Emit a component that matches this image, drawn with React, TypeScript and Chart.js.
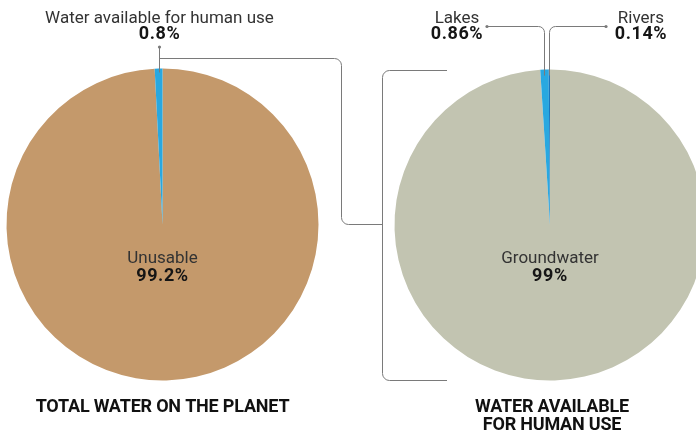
import React, { useEffect, useRef } from "react";
import { Chart, registerables } from "chart.js";

Chart.register(...registerables);

// ---- data ----
const totalLabels = ["Unusable", "Water available for human use"];
const totalValues = [99.2, 0.8];
const totalColors = ["#C4996B", "#29A8E0"];

const humanLabels = ["Groundwater", "Lakes", "Rivers"];
const humanValues = [99, 0.86, 0.14];
const humanColors = ["#C2C4B1", "#29A8E0", "#1B75BC"];

const leftTitle = ["TOTAL WATER ON THE PLANET"];
const rightTitle = ["WATER AVAILABLE", "FOR HUMAN USE"];

const FONT = "Roboto, 'Liberation Sans', sans-serif";
const LINE = "#7a7a7a";
const TEXT = "#333333";
const BOLD = "#151515";

const pct = (v: number) => `${v}%`;

function label(ctx: CanvasRenderingContext2D, name: string, value: number, x: number, y: number, gap: number) {
  ctx.save();
  ctx.textAlign = "center";
  ctx.textBaseline = "alphabetic";
  ctx.fillStyle = TEXT;
  ctx.font = `17px ${FONT}`;
  ctx.fillText(name, x, y);
  ctx.fillStyle = BOLD;
  ctx.font = `bold 18px ${FONT}`;
  (ctx as any).letterSpacing = "0.6px";
  ctx.fillText(pct(value), x, y + gap);
  ctx.restore();
}

function title(ctx: CanvasRenderingContext2D, lines: string[], x: number, y: number) {
  ctx.save();
  ctx.textAlign = "center";
  ctx.fillStyle = "#111";
  ctx.font = `bold 18px ${FONT}`;
  (ctx as any).letterSpacing = "-0.2px";
  lines.forEach((l, i) => ctx.fillText(l, x, y + i * 18));
  ctx.restore();
}

function anchor(arc: any) {
  const mid = (arc.startAngle + arc.endAngle) / 2;
  return { x: arc.x + arc.outerRadius * Math.cos(mid), y: arc.y + arc.outerRadius * Math.sin(mid) };
}

function dot(ctx: CanvasRenderingContext2D, x: number, y: number) {
  ctx.beginPath();
  ctx.fillStyle = LINE;
  ctx.arc(x, y, 1.6, 0, Math.PI * 2);
  ctx.fill();
}

const leftPlugin = {
  id: "leftAnn",
  afterDraw(chart: any) {
    const ctx: CanvasRenderingContext2D = chart.ctx;
    const arcs = chart.getDatasetMeta(0).data;
    const main = arcs[0];
    const cx = main.x, cy = main.y, r = main.outerRadius;
    ctx.save();
    label(ctx, totalLabels[0], totalValues[0], cx, cy + 38, 18);
    const a = anchor(arcs[1]);
    const ax = Math.round(a.x) + 0.5;
    label(ctx, totalLabels[1], totalValues[1], ax, 23, 16);
    // connector
    ctx.strokeStyle = LINE;
    ctx.lineWidth = 1;
    ctx.beginPath();
    ctx.moveTo(ax, 47);
    ctx.lineTo(ax, cy - r + 4);
    ctx.stroke();
    ctx.beginPath();
    const hy = 58.5, vx = 341.5, by = 224.5, ex = 382.5;
    ctx.moveTo(ax, hy);
    ctx.arcTo(vx, hy, vx, hy + 6, 7);
    ctx.arcTo(vx, by, vx + 6, by, 7);
    ctx.lineTo(ex, by);
    ctx.stroke();
    dot(ctx, ax, 47);
    title(ctx, leftTitle, cx, 412);
    ctx.restore();
  },
};

const rightPlugin = {
  id: "rightAnn",
  afterDraw(chart: any) {
    const ctx: CanvasRenderingContext2D = chart.ctx;
    const arcs = chart.getDatasetMeta(0).data;
    const main = arcs[0];
    const cx = main.x, cy = main.y, r = main.outerRadius;
    ctx.save();
    label(ctx, humanLabels[0], humanValues[0], cx, cy + 38, 18);
    label(ctx, humanLabels[1], humanValues[1], 457, 23, 16);
    label(ctx, humanLabels[2], humanValues[2], 641, 23, 16);
    ctx.strokeStyle = LINE;
    ctx.lineWidth = 1;
    // bracket
    const bx = 382.5, top = Math.round(cy - r) + 0.5, bot = Math.round(cy + r) - 0.5, ex = 447;
    ctx.beginPath();
    ctx.moveTo(ex, top);
    ctx.arcTo(bx, top, bx, top + 6, 7);
    ctx.arcTo(bx, bot, bx + 6, bot, 7);
    ctx.lineTo(ex, bot);
    ctx.stroke();
    // lakes / rivers connectors
    const la = anchor(arcs[1]);
    const ra = anchor(arcs[2]);
    const lx = Math.round(la.x) + 0.5;
    const rx = Math.round(ra.x) + 0.5;
    const ly = 26.5;
    ctx.beginPath();
    ctx.moveTo(487, ly);
    ctx.arcTo(lx, ly, lx, ly + 6, 6);
    ctx.lineTo(lx, la.y + 6);
    ctx.stroke();
    ctx.beginPath();
    ctx.moveTo(606, ly);
    ctx.arcTo(rx, ly, rx, ly + 6, 6);
    ctx.lineTo(rx, ra.y + 6);
    ctx.stroke();
    dot(ctx, 487, ly);
    dot(ctx, 606, ly);
    title(ctx, rightTitle, cx + 2, 412);
    ctx.restore();
  },
};

function pieOptions(padding: any) {
  return {
    responsive: false,
    animation: false as const,
    events: [] as any[],
    layout: { padding },
    plugins: { legend: { display: false }, tooltip: { enabled: false }, title: { display: false } },
    elements: { arc: { borderWidth: 0, offset: 0, hoverOffset: 0 } },
  };
}

export default function App() {
  const leftRef = useRef<HTMLCanvasElement>(null);
  const rightRef = useRef<HTMLCanvasElement>(null);

  useEffect(() => {
    const left = new Chart(leftRef.current!, {
      type: "pie",
      data: {
        labels: totalLabels,
        datasets: [{ data: totalValues, backgroundColor: totalColors, borderWidth: 0, hoverOffset: 0 }],
      },
      options: pieOptions({ left: 6.5, top: 68.5, right: 696 - 318.5, bottom: 432 - 380.5 }) as any,
      plugins: [leftPlugin],
    });
    const right = new Chart(rightRef.current!, {
      type: "pie",
      data: {
        labels: humanLabels,
        datasets: [{ data: humanValues, backgroundColor: humanColors, borderWidth: 0, hoverOffset: 0 }],
      },
      options: pieOptions({ left: 394.5, top: 69.5, right: 720 - 705.5, bottom: 432 - 380.5 }) as any,
      plugins: [rightPlugin],
    });
    return () => {
      left.destroy();
      right.destroy();
    };
  }, []);

  return (
    <div
      style={{
        position: "absolute",
        left: 0,
        top: 0,
        width: 696,
        height: 432,
        overflow: "hidden",
        background: "#fff",
      }}
    >
      <canvas ref={leftRef} width={696} height={432} style={{ position: "absolute", left: 0, top: 0 }} />
      <canvas
        ref={rightRef}
        width={720}
        height={432}
        style={{ position: "absolute", left: 0, top: 0, pointerEvents: "none" }}
      />
    </div>
  );
}
